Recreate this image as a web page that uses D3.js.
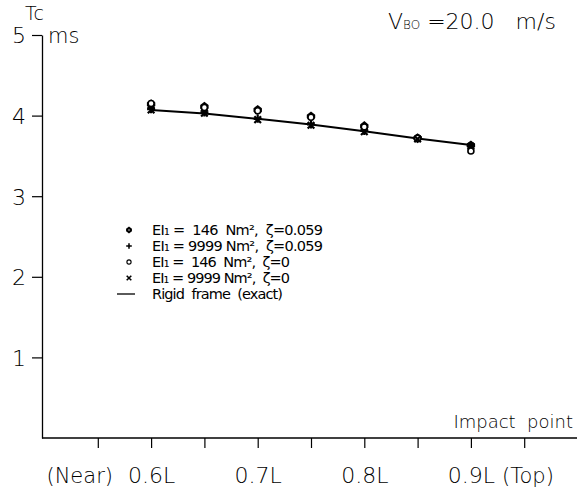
<!DOCTYPE html>
<html>
<head>
<meta charset="utf-8" />
<title>Tc vs impact point</title>
<script src="https://d3js.org/d3.v7.min.js"></script>
<style>
  body { margin: 0; background: #fff; }
  svg text { font-family: "DejaVu Sans", sans-serif; font-weight: 200; fill: #000; white-space: pre; }
  svg text.leg { font-weight: normal; }
</style>
</head>
<body>
<svg id="chart"></svg>
<script>
// impact point positions (fraction of L)
const points = [0.6, 0.65, 0.7, 0.75, 0.8, 0.85, 0.9];
// Tc values (ms)
const ei146z059 = [4.14, 4.11, 4.07, 3.99, 3.87, 3.72, 3.63];
const ei9999z059 = [4.08, 4.04, 3.96, 3.89, 3.81, 3.72, 3.63];
const ei146z0 = [4.15, 4.10, 4.06, 3.98, 3.86, 3.72, 3.56];
const ei9999z0 = [4.07, 4.03, 3.95, 3.88, 3.80, 3.71, 3.62];
const rigid = [4.07, 4.025, 3.96, 3.89, 3.805, 3.715, 3.635];
const xTicks = [0.55, 0.6, 0.65, 0.7, 0.75, 0.8, 0.85, 0.9, 0.95];
const yTicks = [1, 2, 3, 4, 5];
const legendLabels = [
  "EI\u2081 =  146  Nm\u00b2,  \u03b6=0.059",
  "EI\u2081 = 9999 Nm\u00b2,  \u03b6=0.059",
  "EI\u2081 =  146  Nm\u00b2,  \u03b6=0",
  "EI\u2081 = 9999 Nm\u00b2,  \u03b6=0",
  "Rigid  frame  (exact)"
];
const legendWidths = [171, 171, 138, 138, 131];

const W = 577, H = 488;
const svg = d3.select("#chart").attr("width", W).attr("height", H);

const x = d3.scaleLinear().domain([0.5, 1.0]).range([44.5, 577.5]);
const y = d3.scaleLinear().domain([0, 5]).range([438, 35]);
const axisX = 42;

// y axis
const gy = svg.append("g").attr("transform", `translate(${axisX},0)`)
  .call(d3.axisLeft(y).tickValues(yTicks).tickSize(10).tickSizeOuter(0).tickFormat(d3.format("d")));
gy.select(".domain").attr("stroke-width", 1.3);
gy.selectAll(".tick line").attr("stroke-width", 1.2);
gy.selectAll(".tick text").attr("x", -16).attr("font-size", 22).attr("dy", "0.36em");

// x axis
const gx = svg.append("g").attr("transform", `translate(0,${y(0)})`)
  .call(d3.axisBottom(x).tickValues(xTicks).tickSize(10).tickSizeOuter(0)
    .tickFormat(d => (Math.round(d * 100) % 10 === 0) ? d3.format(".1f")(d) + "L" : ""));
gx.select(".domain").remove();
gx.append("line").attr("x1", axisX).attr("x2", W).attr("stroke", "#000").attr("stroke-width", 1.3);
gx.selectAll(".tick line").attr("stroke-width", 1.2);
gx.selectAll(".tick text").attr("y", 45).attr("dy", 0).attr("font-size", 22);

svg.append("text").attr("x", 113).attr("y", y(0) + 45).attr("text-anchor", "end")
  .attr("font-size", 21).text("(Near)");
svg.append("text").attr("x", 502).attr("y", y(0) + 45)
  .attr("font-size", 21).text("(Top)");
svg.append("text").attr("x", 573).attr("y", 428).attr("text-anchor", "end")
  .attr("font-size", 18).text("Impact  point");

// axis title
svg.append("text").attr("x", 25).attr("y", 20).attr("font-size", 19).text("Tc");
svg.append("text").attr("x", 48).attr("y", 43).attr("font-size", 21).text("ms");

// header
const hdr = svg.append("text").attr("x", 388).attr("y", 29).attr("font-size", 22);
hdr.append("tspan").text("V");
hdr.append("tspan").attr("font-size", 12).text("BO");
hdr.append("tspan").text(" =20.0   m/s");

// rigid frame line
const line = d3.line().x((d, i) => x(points[i])).y(d => y(d));
svg.append("path").datum(rigid).attr("d", line)
  .attr("fill", "none").attr("stroke", "#000").attr("stroke-width", 2);

// marker drawers
function filledDot(g) {
  g.append("path").attr("d", "M0,-5L4.2,-1.7L4.2,1.7L0,5L-4.2,1.7L-4.2,-1.7Z").attr("fill", "#000");
  g.append("circle").attr("r", 1).attr("fill", "#fff");
}
function plus(g) {
  g.append("path").attr("d", "M-4,0H4M0,-4V4").attr("stroke", "#000").attr("stroke-width", 2.2);
}
function openDot(g) {
  g.append("circle").attr("r", 3).attr("fill", "#fff").attr("stroke", "#000").attr("stroke-width", 1.6);
}
function cross(g) {
  g.append("path").attr("d", "M-3.3,-3.3L3.3,3.3M-3.3,3.3L3.3,-3.3").attr("stroke", "#000").attr("stroke-width", 2.2);
}
const series = [
  { values: ei146z059, draw: filledDot },
  { values: ei9999z059, draw: plus },
  { values: ei146z0, draw: openDot },
  { values: ei9999z0, draw: cross }
];

series.forEach(s => {
  svg.append("g").selectAll("g").data(s.values).join("g")
    .attr("transform", (d, i) => `translate(${x(points[i])},${y(d)})`)
    .each(function () { s.draw(d3.select(this)); });
});

// legend
const legY0 = 230, legStep = 16;
legendLabels.forEach((lab, i) => {
  const ly = legY0 + i * legStep;
  const g = svg.append("g").attr("transform", `translate(129,${ly})`);
  if (i < 4) {
    const mg = g.append("g").attr("transform", "scale(0.7)");
    series[i].draw(mg);
  } else {
    g.append("line").attr("x1", -12).attr("x2", 6).attr("stroke", "#000").attr("stroke-width", 1.3);
  }
  svg.append("text").attr("class", "leg").attr("x", 152).attr("y", ly).attr("dy", "0.36em")
    .attr("font-size", 14.5).attr("textLength", legendWidths[i]).attr("lengthAdjust", "spacing")
    .text(lab);
});
</script>
</body>
</html>
